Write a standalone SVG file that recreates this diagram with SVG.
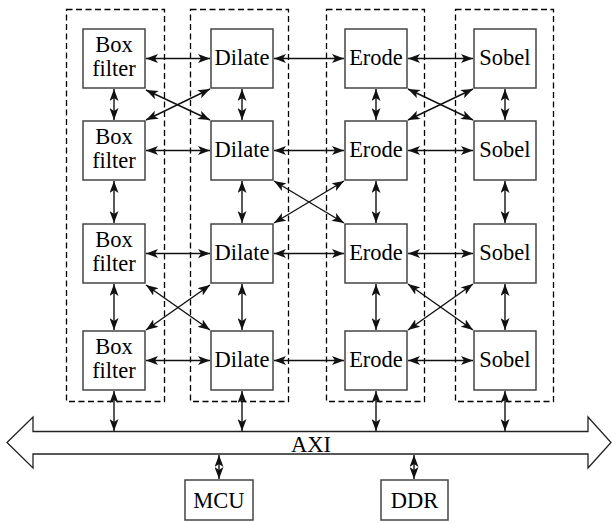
<svg xmlns="http://www.w3.org/2000/svg" width="612" height="523" viewBox="0 0 612 523">
<style>
.grp{fill:none;stroke:#000;stroke-width:1.3;stroke-dasharray:6,3.5}
.box{fill:#fff;stroke:#444;stroke-width:1.5}
.t{font-family:"Liberation Serif","Times New Roman",serif;font-size:22.5px;fill:#000;text-anchor:middle}
.c{fill:none;stroke:#111;stroke-width:1.4;marker-start:url(#ah);marker-end:url(#ah)}
.bus{fill:#fff;stroke:#222;stroke-width:1.3}
</style>
<defs>
<marker id="ah" viewBox="0 0 12 9" markerWidth="12" markerHeight="9" refX="12" refY="4.5" orient="auto-start-reverse" markerUnits="userSpaceOnUse">
<path d="M0,0 L12,4.5 L0,9 L3,4.5 Z" fill="#111"/>
</marker>
</defs>
<rect width="612" height="523" fill="#fff"/>
<g id="groups">
<rect class="grp" x="66.5" y="9.5" width="98" height="392"/>
<rect class="grp" x="190.5" y="9.5" width="98" height="392"/>
<rect class="grp" x="326.5" y="9.5" width="98" height="392"/>
<rect class="grp" x="455.5" y="9.5" width="98" height="392"/>
</g>
<g id="axi">
<path class="bus" d="M7,442.5 L33,417 L33,431.5 L588,431.5 L588,417 L611,442.5 L588,468 L588,454 L33,454 L33,468 Z"/>
<text class="t" x="311" y="452">AXI</text>
</g>
<g id="connectors">
<line class="c" x1="146" y1="58.5" x2="210" y2="58.5"/>
<line class="c" x1="274" y1="58.5" x2="344" y2="58.5"/>
<line class="c" x1="408" y1="58.5" x2="473" y2="58.5"/>
<line class="c" x1="146" y1="150.5" x2="210" y2="150.5"/>
<line class="c" x1="274" y1="150.5" x2="344" y2="150.5"/>
<line class="c" x1="408" y1="150.5" x2="473" y2="150.5"/>
<line class="c" x1="146" y1="253.5" x2="210" y2="253.5"/>
<line class="c" x1="274" y1="253.5" x2="344" y2="253.5"/>
<line class="c" x1="408" y1="253.5" x2="473" y2="253.5"/>
<line class="c" x1="146" y1="360.5" x2="210" y2="360.5"/>
<line class="c" x1="274" y1="360.5" x2="344" y2="360.5"/>
<line class="c" x1="408" y1="360.5" x2="473" y2="360.5"/>
<line class="c" x1="114" y1="89" x2="114" y2="120"/>
<line class="c" x1="242" y1="89" x2="242" y2="120"/>
<line class="c" x1="376" y1="89" x2="376" y2="120"/>
<line class="c" x1="505" y1="89" x2="505" y2="120"/>
<line class="c" x1="114" y1="181" x2="114" y2="223"/>
<line class="c" x1="242" y1="181" x2="242" y2="223"/>
<line class="c" x1="376" y1="181" x2="376" y2="223"/>
<line class="c" x1="505" y1="181" x2="505" y2="223"/>
<line class="c" x1="114" y1="284" x2="114" y2="330"/>
<line class="c" x1="242" y1="284" x2="242" y2="330"/>
<line class="c" x1="376" y1="284" x2="376" y2="330"/>
<line class="c" x1="505" y1="284" x2="505" y2="330"/>
<line class="c" x1="114" y1="391" x2="114" y2="431"/>
<line class="c" x1="242" y1="391" x2="242" y2="431"/>
<line class="c" x1="376" y1="391" x2="376" y2="431"/>
<line class="c" x1="505" y1="391" x2="505" y2="431"/>
<line class="c" x1="219" y1="455" x2="219" y2="479"/>
<line class="c" x1="414" y1="455" x2="414" y2="479"/>
<line class="c" x1="146" y1="90" x2="210" y2="120"/>
<line class="c" x1="146" y1="120" x2="210" y2="89"/>
<line class="c" x1="408" y1="89" x2="473" y2="120"/>
<line class="c" x1="408" y1="120" x2="473" y2="89"/>
<line class="c" x1="274" y1="181" x2="344" y2="223"/>
<line class="c" x1="274" y1="223" x2="344" y2="181"/>
<line class="c" x1="146" y1="285" x2="210" y2="330"/>
<line class="c" x1="146" y1="330" x2="210" y2="285"/>
<line class="c" x1="408" y1="284" x2="473" y2="330"/>
<line class="c" x1="408" y1="330" x2="473" y2="284"/>
</g>
<g id="box1"><rect class="box" x="83" y="29" width="62" height="59"/><text class="t" x="114" y="52">Box</text><text class="t" x="114" y="76">filter</text></g>
<g id="box2"><rect class="box" x="83" y="121" width="62" height="59"/><text class="t" x="114" y="144">Box</text><text class="t" x="114" y="168">filter</text></g>
<g id="box3"><rect class="box" x="83" y="224" width="62" height="59"/><text class="t" x="114" y="247">Box</text><text class="t" x="114" y="271">filter</text></g>
<g id="box4"><rect class="box" x="83" y="331" width="62" height="59"/><text class="t" x="114" y="354">Box</text><text class="t" x="114" y="378">filter</text></g>
<g id="dilate1"><rect class="box" x="211" y="29" width="62" height="59"/><text class="t" x="242" y="65">Dilate</text></g>
<g id="dilate2"><rect class="box" x="211" y="121" width="62" height="59"/><text class="t" x="242" y="157">Dilate</text></g>
<g id="dilate3"><rect class="box" x="211" y="224" width="62" height="59"/><text class="t" x="242" y="260">Dilate</text></g>
<g id="dilate4"><rect class="box" x="211" y="331" width="62" height="59"/><text class="t" x="242" y="367">Dilate</text></g>
<g id="erode1"><rect class="box" x="345" y="29" width="62" height="59"/><text class="t" x="376" y="65">Erode</text></g>
<g id="erode2"><rect class="box" x="345" y="121" width="62" height="59"/><text class="t" x="376" y="157">Erode</text></g>
<g id="erode3"><rect class="box" x="345" y="224" width="62" height="59"/><text class="t" x="376" y="260">Erode</text></g>
<g id="erode4"><rect class="box" x="345" y="331" width="62" height="59"/><text class="t" x="376" y="367">Erode</text></g>
<g id="sobel1"><rect class="box" x="474" y="29" width="62" height="59"/><text class="t" x="505" y="65">Sobel</text></g>
<g id="sobel2"><rect class="box" x="474" y="121" width="62" height="59"/><text class="t" x="505" y="157">Sobel</text></g>
<g id="sobel3"><rect class="box" x="474" y="224" width="62" height="59"/><text class="t" x="505" y="260">Sobel</text></g>
<g id="sobel4"><rect class="box" x="474" y="331" width="62" height="59"/><text class="t" x="505" y="367">Sobel</text></g>
<g id="mcu"><rect class="box" x="185" y="480" width="68" height="40"/><text class="t" x="219" y="508">MCU</text></g>
<g id="ddr"><rect class="box" x="381" y="480" width="67" height="40"/><text class="t" x="414.5" y="508">DDR</text></g>
</svg>
